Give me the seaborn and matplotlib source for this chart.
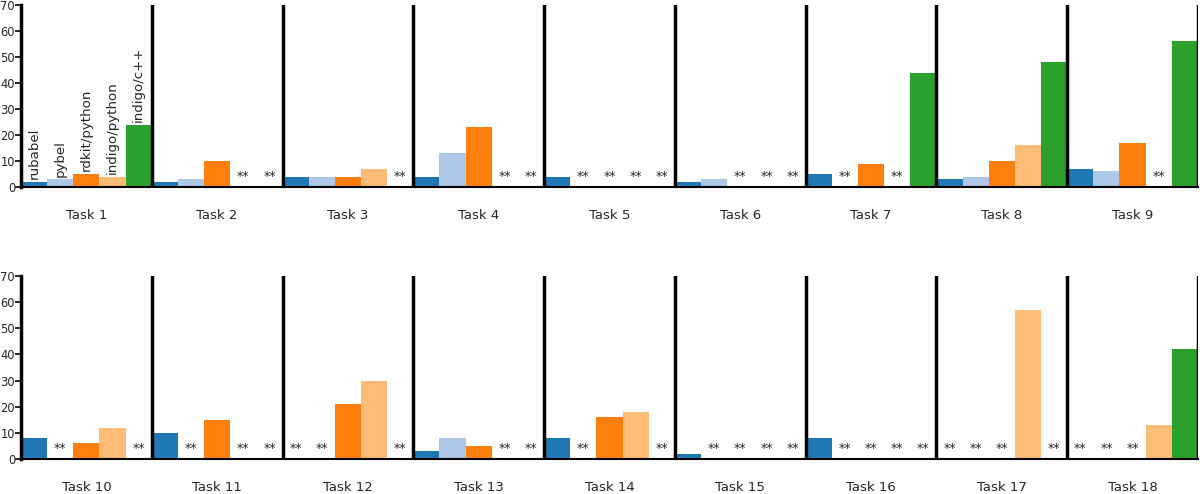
import matplotlib
matplotlib.use("Agg")
import matplotlib.pyplot as plt
import numpy as np
import pandas as pd
import seaborn as sns

tools = ["rubabel", "pybel", "rdkit/python", "indigo/python", "indigo/c++"]
colors = ["#1f77b4", "#aec7e8", "#ff7f0e", "#ffbb78", "#2ca02c"]
tasks = [f"Task {i}" for i in range(1, 19)]

nan = np.nan
# one list per tool, 18 tasks each; nan means no result ("**")
rubabel = [2, 2, 4, 4, 4, 2, 5, 3, 7, 8, 10, nan, 3, 8, 2, 8, nan, nan]
pybel = [3, 3, 4, 13, nan, 3, nan, 4, 6, nan, nan, nan, 8, nan, nan, nan, nan, nan]
rdkit_py = [5, 10, 4, 23, nan, nan, 9, 10, 17, 6, 15, 21, 5, 16, nan, nan, nan, nan]
indigo_py = [4, nan, 7, nan, nan, nan, nan, 16, nan, 12, nan, 30, nan, 18, nan, nan, 57, 13]
indigo_cpp = [24, nan, nan, nan, nan, nan, 44, 48, 56, nan, nan, nan, nan, nan, nan, nan, nan, 42]

series = [rubabel, pybel, rdkit_py, indigo_py, indigo_cpp]
rows = []
for tool, vals in zip(tools, series):
    for task, v in zip(tasks, vals):
        rows.append({"task": task, "tool": tool, "value": v})
df = pd.DataFrame(rows)

sns.set_style("white")
plt.rcParams["font.family"] = ["DejaVu Sans"]

fig = plt.figure(figsize=(12, 4.94), dpi=100)
ax_top = fig.add_axes([0.0175, 0.6215, 0.9808, 0.3684])
ax_bot = fig.add_axes([0.0175, 0.0709, 0.9808, 0.3704])

palette = dict(zip(tools, colors))
nslot = len(tools)
bw = 1.0 / nslot

for k, ax in enumerate([ax_top, ax_bot]):
    part_tasks = tasks[k * 9:(k + 1) * 9]
    sub = df[df["task"].isin(part_tasks)]
    sns.barplot(data=sub, x="task", y="value", hue="tool", order=part_tasks,
                hue_order=tools, palette=palette, width=1.0, gap=0,
                saturation=1, linewidth=0, legend=False, ax=ax)

    # missing results
    for i, task in enumerate(part_tasks):
        for j, tool in enumerate(tools):
            v = sub[(sub["task"] == task) & (sub["tool"] == tool)]["value"].iloc[0]
            xc = i - 0.5 + bw * (j + 0.5)
            if np.isnan(v):
                ax.text(xc, 1.4, "**", ha="center", va="bottom", fontsize=9)
            elif k == 0 and i == 0:
                ax.text(xc, v + 1.0, tool, rotation=90, ha="center",
                        va="bottom", fontsize=9.6)

    for i in range(9):
        ax.axvline(i + 0.5, color="black", lw=2.5, zorder=5)

    ax.set_xlim(-0.5, 8.5)
    ax.set_ylim(0, 70)
    ax.set_yticks(range(0, 71, 10))
    ax.set_xlabel("")
    ax.set_ylabel("")
    ax.tick_params(axis="x", length=0, pad=16, labelsize=9.5)
    ax.tick_params(axis="y", left=True, length=4, width=1.2, pad=0.3,
                   labelsize=8.3, color="black")
    for s in ["top", "right"]:
        ax.spines[s].set_visible(False)
    ax.spines["left"].set_linewidth(2.5)
    ax.spines["left"].set_color("black")
    ax.spines["bottom"].set_linewidth(1.5)
    ax.spines["bottom"].set_color("black")

fig.savefig("out.png", dpi=100)
